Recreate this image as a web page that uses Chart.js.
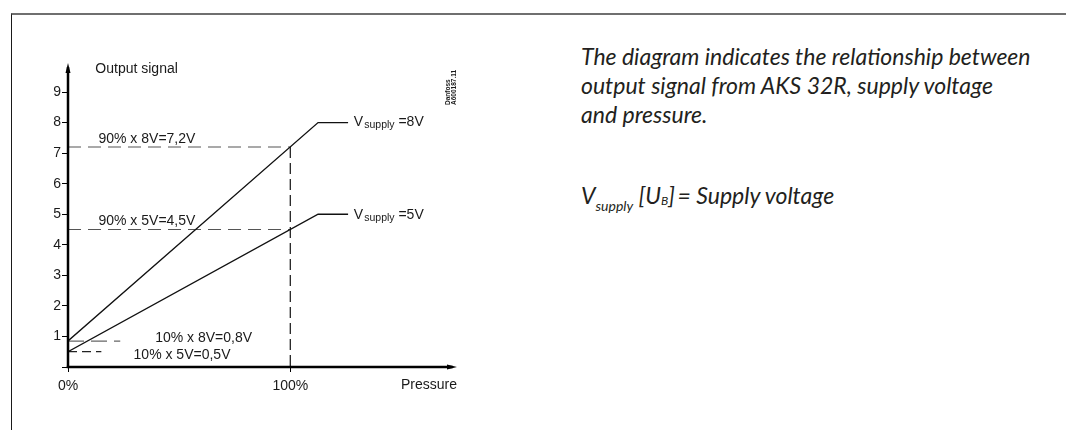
<!DOCTYPE html>
<html>
<head>
<meta charset="utf-8">
<script src="https://cdn.jsdelivr.net/npm/chart.js@4"></script>
<style>
  body { margin: 0; background: #fff; width: 1066px; height: 430px; overflow: hidden; position: relative; }
  #frame { position: absolute; left: 11px; top: 13px; right: 0; bottom: 0; border-top: 2px solid #6f6f6f; border-left: 1px solid #1a1a1a; }
  #chartBox { position: absolute; left: 0; top: 0; width: 540px; height: 430px; }
  .note { position: absolute; left: 581px; font-family: Lato; font-style: italic; font-size: 23px; line-height: 29px; color: #231f20; white-space: nowrap; }
  .note sub { line-height: 0; }
  #note1 { top: 42px; }
  #note2 { top: 181px; }
  #note2 .s1 { font-size: 14px; vertical-align: -7px; }
  #note2 .s2 { font-size: 12px; vertical-align: -1px; }
</style>
</head>
<body>
<div id="frame"></div>
<div id="chartBox"><canvas id="outputChart"></canvas></div>
<div class="note" id="note1">The diagram indicates the relationship between<br>output signal from AKS 32R, supply voltage<br>and pressure.</div>
<div class="note" id="note2">V<sub class="s1">supply</sub> [U<sub class="s2">B</sub>]&thinsp;= Supply voltage</div>

<script>
// Pressure in % of range, output signal in V
let pressure = [0, 112.5, 126];
let signal8V = [0.85, 8, 8];
let signal5V = [0.5, 5, 5];

// Dashed helper lines
let ref72X = [0, 100], ref72Y = [7.2, 7.2];
let refFullX = [100, 100], refFullY = [7.2, 0];
let ref45X = [0, 100], ref45Y = [4.5, 4.5];
let ref08X = [0, 23.5], ref08Y = [0.85, 0.85];
let ref05X = [0, 15], ref05Y = [0.5, 0.5];

// Axis ticks
let yTicks = [0, 1, 2, 3, 4, 5, 6, 7, 8, 9];
let xTicks = [0, 100];
let xTickLabels = ['0%', '100%'];

function toPoints(xs, ys) {
    return xs.map(function(x, i) { return { x: x, y: ys[i] }; });
}

let font = "'Liberation Sans', Arial, sans-serif";

// Texts inside the plot (placed in data units)
let plotTexts = [
    { text: 'Output signal', x: 12.3, y: 9.74 },
    { text: '90% x 8V=7,2V', x: 13.7, y: 7.47 },
    { text: '90% x 5V=4,5V', x: 13.7, y: 4.78 },
    { text: '10% x 8V=0,8V', x: 39.2, y: 0.93 },
    { text: '10% x 5V=0,5V', x: 29.5, y: 0.40 }
];
let supplyTexts = [
    { value: '=8V', x: 128.6, y: 8.0 },
    { value: '=5V', x: 128.6, y: 4.97 }
];

// Draws axes with arrows, labels and the drawing number
let extrasPlugin = {
    id: 'extras',
    afterDraw: function(chart) {
        let ctx = chart.ctx;
        let xs = chart.scales.x, ys = chart.scales.y;
        let x0 = xs.getPixelForValue(0);
        let y0 = ys.getPixelForValue(0);
        let xEnd = xs.getPixelForValue(xs.max);
        let yEnd = ys.getPixelForValue(ys.max);
        ctx.save();

        // axis lines
        ctx.fillStyle = '#000';
        ctx.fillRect(x0 - 1.25, yEnd + 4, 2.5, y0 - yEnd - 3);
        ctx.fillRect(x0 - 1.25, y0 - 1.25, xEnd - x0 - 3, 2.5);

        // arrow heads
        ctx.beginPath();
        ctx.moveTo(x0, yEnd);
        ctx.lineTo(x0 - 2.5, yEnd + 10);
        ctx.lineTo(x0 + 2.5, yEnd + 10);
        ctx.closePath();
        ctx.fill();
        ctx.beginPath();
        ctx.moveTo(xEnd, y0);
        ctx.lineTo(xEnd - 10, y0 - 2.5);
        ctx.lineTo(xEnd - 10, y0 + 2.5);
        ctx.closePath();
        ctx.fill();

        ctx.fillStyle = '#1a1a1a';
        ctx.font = '14px ' + font;
        ctx.textBaseline = 'middle';
        ctx.textAlign = 'left';
        plotTexts.forEach(function(t) {
            ctx.fillText(t.text, xs.getPixelForValue(t.x), ys.getPixelForValue(t.y));
        });

        supplyTexts.forEach(function(t) {
            let px = xs.getPixelForValue(t.x);
            let py = ys.getPixelForValue(t.y);
            ctx.font = '14px ' + font;
            ctx.fillText('V', px, py);
            px += ctx.measureText('V').width + 1;
            ctx.font = '10.5px ' + font;
            ctx.fillText('supply', px, py + 3);
            px += ctx.measureText('supply').width;
            ctx.font = '14px ' + font;
            ctx.fillText(' ' + t.value, px, py);
        });

        // x axis name
        ctx.font = '14px ' + font;
        ctx.textAlign = 'right';
        ctx.fillText('Pressure', xEnd, y0 + 18);

        // drawing number, rotated
        ctx.translate(453, 105);
        ctx.rotate(-Math.PI / 2);
        ctx.textAlign = 'left';
        ctx.font = 'bold 6.5px ' + font;
        ctx.fillText('Danfoss', 0, -5);
        ctx.fillText('A600187.11', 0, 1);
        ctx.restore();
    }
};

var ctxOut = document.getElementById('outputChart').getContext('2d');
var chartOutput = new Chart(ctxOut, {
    type: 'scatter',
    data: {
        datasets: [
            { data: toPoints(pressure, signal8V), borderColor: '#111', borderWidth: 1.4 },
            { data: toPoints(pressure, signal5V), borderColor: '#111', borderWidth: 1.4 },
            { data: toPoints(ref72X, ref72Y), borderColor: '#555', borderWidth: 1.2, borderDash: [13, 7] },
            { data: toPoints(ref45X, ref45Y), borderColor: '#555', borderWidth: 1.2, borderDash: [13, 7] },
            { data: toPoints(refFullX, refFullY), borderColor: '#111', borderWidth: 1.2, borderDash: [11, 5] },
            { data: toPoints(ref08X, ref08Y), borderColor: '#666', borderWidth: 1.2, borderDash: [16, 7] },
            { data: toPoints(ref05X, ref05Y), borderColor: '#222', borderWidth: 1.2, borderDash: [9, 5] }
        ].map(function(d) {
            d.showLine = true;
            d.pointRadius = 0;
            d.fill = false;
            return d;
        })
    },
    options: {
        responsive: true,
        maintainAspectRatio: false,
        animation: false,
        layout: { padding: { left: 28, top: 63, right: 83, bottom: 23 } },
        plugins: { legend: { display: false }, tooltip: { enabled: false } },
        scales: {
            x: {
                type: 'linear',
                min: 0,
                max: 175,
                afterFit: function(s) { s.height = 40; },
                afterBuildTicks: function(s) { s.ticks = xTicks.map(function(v) { return { value: v }; }); },
                ticks: {
                    callback: function(v) { return xTickLabels[xTicks.indexOf(v)]; },
                    font: { family: font, size: 14 },
                    color: '#1a1a1a',
                    padding: 6,
                    maxRotation: 0
                },
                grid: { drawOnChartArea: false, tickLength: 5, color: '#000', lineWidth: 1 },
                border: { display: false }
            },
            y: {
                type: 'linear',
                min: 0,
                max: 9.95,
                afterFit: function(s) { s.width = 40; },
                afterBuildTicks: function(s) { s.ticks = yTicks.map(function(v) { return { value: v }; }); },
                ticks: {
                    callback: function(v) { return v === 0 ? '' : v; },
                    font: { family: font, size: 14 },
                    color: '#1a1a1a',
                    padding: 1
                },
                grid: { drawOnChartArea: false, tickLength: 6, color: '#000', lineWidth: 1 },
                border: { display: false }
            }
        }
    },
    plugins: [extrasPlugin]
});
</script>
</body>
</html>
